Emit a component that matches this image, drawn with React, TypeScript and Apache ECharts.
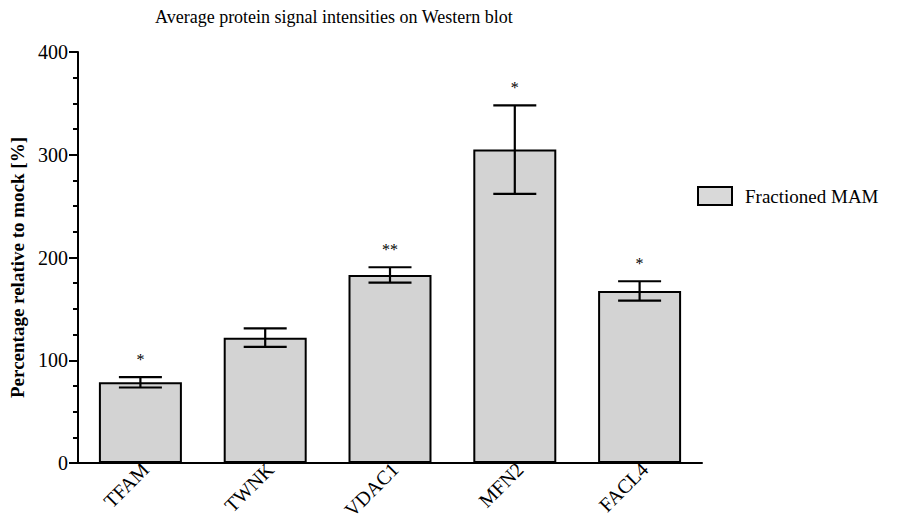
import React, { useEffect, useRef } from "react";
import * as echarts from "echarts";

const categories = ["TFAM", "TWNK", "VDAC1", "MFN2", "FACL4"];
const meanValues = [78.5, 122, 183, 305, 167.5];
const errorValues = [5, 9, 7.5, 43, 9.4];
const significance = ["*", "", "**", "*", "*"];
const seriesName = "Fractioned MAM";
const titleText = "Average protein signal intensities on Western blot";
const yAxisName = "Percentage relative to mock [%]";

const FONT = "'Liberation Serif', 'Times New Roman', serif";

export default function App() {
  const ref = useRef<HTMLDivElement>(null);

  useEffect(() => {
    if (!ref.current) return;
    const chart = echarts.init(ref.current, undefined, { renderer: "svg" });

    const errorData = categories.map((_, i) => [
      i,
      meanValues[i] - errorValues[i],
      meanValues[i] + errorValues[i],
    ]);

    chart.setOption({
      animation: false,
      backgroundColor: "#ffffff",
      textStyle: { fontFamily: FONT, color: "#000" },
      title: {
        text: titleText,
        left: 150,
        top: 3,
        textStyle: {
          fontFamily: FONT,
          fontSize: 18,
          fontWeight: "normal",
          color: "#000",
        },
      },
      legend: {
        data: [seriesName],
        left: 697,
        top: 186,
        padding: 0,
        icon: "rect",
        itemWidth: 34,
        itemHeight: 18,
        itemGap: 10,
        itemStyle: { color: "#d9d9d9", borderColor: "#000", borderWidth: 2 },
        textStyle: {
          fontFamily: FONT,
          fontSize: 19,
          color: "#000",
          lineHeight: 18,
          padding: [0, 0, 0, 8],
        },
      },
      grid: { left: 78, right: 210, top: 52, bottom: 64, containLabel: false },
      xAxis: {
        type: "category",
        data: categories,
        axisLine: { show: true, lineStyle: { color: "#000", width: 2 } },
        axisTick: { show: false },
        axisLabel: {
          rotate: 45,
          margin: 8,
          padding: [0, -7, 0, 0],
          fontFamily: FONT,
          fontSize: 20,
          color: "#000",
        },
        splitLine: { show: false },
      },
      yAxis: {
        type: "value",
        min: 0,
        max: 400,
        interval: 100,
        name: yAxisName,
        nameLocation: "middle",
        nameRotate: 90,
        nameGap: 37,
        nameTextStyle: {
          fontFamily: FONT,
          fontSize: 19,
          fontWeight: "bold",
          color: "#000",
          padding: [0, 20, 0, 0],
        },
        axisLine: { show: true, lineStyle: { color: "#000", width: 2 } },
        axisTick: {
          show: true,
          inside: false,
          length: 9,
          lineStyle: { color: "#000", width: 2 },
        },
        minorTick: {
          show: true,
          splitNumber: 4,
          length: 5,
          lineStyle: { color: "#000", width: 2 },
        },
        axisLabel: {
          margin: 10,
          fontFamily: FONT,
          fontSize: 20,
          color: "#000",
        },
        splitLine: { show: false },
      },
      series: [
        {
          name: seriesName,
          type: "bar",
          data: meanValues,
          barWidth: "66.5%",
          itemStyle: { color: "#d3d3d3", borderColor: "#000", borderWidth: 2 },
        },
        {
          type: "custom",
          name: "error",
          data: errorData,
          z: 10,
          renderItem: (params: any, api: any) => {
            const idx = api.value(0);
            const low = api.coord([idx, api.value(1)]);
            const high = api.coord([idx, api.value(2)]);
            const half = 21.5;
            const style = { stroke: "#000", lineWidth: 2.2 };
            const children: any[] = [
              { type: "line", shape: { x1: high[0], y1: high[1], x2: low[0], y2: low[1] }, style },
              { type: "line", shape: { x1: high[0] - half, y1: high[1], x2: high[0] + half, y2: high[1] }, style },
              { type: "line", shape: { x1: low[0] - half, y1: low[1], x2: low[0] + half, y2: low[1] }, style },
            ];
            const sig = significance[params.dataIndex];
            if (sig) {
              children.push({
                type: "text",
                style: {
                  text: sig,
                  x: high[0],
                  y: high[1] - 18,
                  align: "center",
                  verticalAlign: "middle",
                  fontFamily: FONT,
                  fontSize: 16,
                  fill: "#000",
                },
              });
            }
            return { type: "group", children };
          },
        },
      ],
    });

    return () => chart.dispose();
  }, []);

  return (
    <div
      ref={ref}
      style={{ position: "absolute", left: 0, top: 0, width: 912, height: 527 }}
    />
  );
}
